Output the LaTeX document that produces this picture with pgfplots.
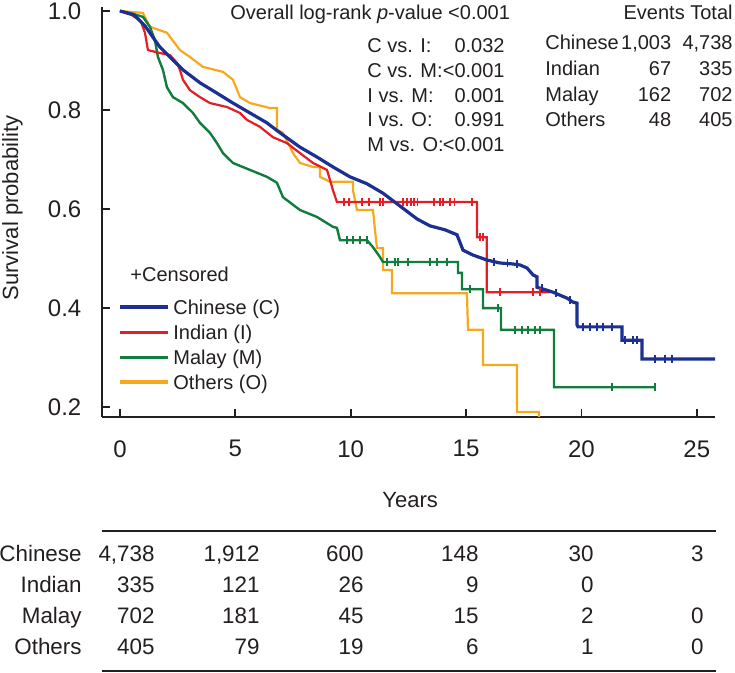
\documentclass[border=0pt]{standalone}
\usepackage{pgfplots}
\pgfplotsset{compat=1.18}
\usepackage{fontspec}
\setmainfont{Liberation Sans}
\definecolor{cblue}{RGB}{28,48,145}
\definecolor{cred}{RGB}{227,30,36}
\definecolor{cgreen}{RGB}{16,124,62}
\definecolor{corange}{RGB}{246,168,30}
\definecolor{ink}{RGB}{35,31,32}
\begin{document}
\begin{tikzpicture}
\path[use as bounding box] (0,0) rectangle (367.5pt,-336.5pt);
\begin{axis}[
  at={(50.85pt,-208.5pt)}, anchor=south west,
  scale only axis, width=306.65pt, height=205pt,
  xmin=-0.79, xmax=25.79, ymin=0.180, ymax=1.008,
  axis lines=left, axis line style={-, line width=1pt, ink},
  tick align=inside, major tick length=4pt,
  tick style={line width=0.9pt, ink},
  xtick={0,5,10,15,20,25}, xticklabels={0,5,10,15,20,25},
  ytick={0.2,0.4,0.6,0.8,1.0}, yticklabels={0.2,0.4,0.6,0.8,1.0},
  ticklabel style={font=\fontsize{12}{14}\selectfont, text=ink},
  yticklabel style={anchor=east, inner sep=0pt, xshift=-10pt},
  xticklabel style={anchor=north, inner sep=0pt, yshift=-11.5pt},
  xlabel={Years}, ylabel={Survival probability},
  xlabel style={at={(axis description cs:0.503,-0.2024)}, anchor=center, font=\fontsize{11}{13}\selectfont, text=ink},
  ylabel style={at={(axis description cs:-0.1454,0.5098)}, anchor=center, rotate=0, font=\fontsize{11}{13}\selectfont, text=ink},
  clip=true,
]
% Others
\addplot[corange, line width=1.1pt, mark=none] coordinates {
(0,1.000)(0.997,0.996)(1.300,0.968)(2.037,0.956)(2.601,0.921)(3.034,0.907)(3.598,0.887)
(4.465,0.877)(4.898,0.861)(5.202,0.826)(5.635,0.814)(6.502,0.804)(6.805,0.804)(6.805,0.760)
(7.065,0.754)(7.5,0.713)(7.802,0.693)(8.366,0.685)(8.669,0.685)(8.669,0.665)(9.103,0.655)
(10.100,0.655)(10.100,0.638)(10.273,0.598)(10.967,0.598)(11.053,0.558)(11.140,0.521)
(11.400,0.521)(11.400,0.477)(11.790,0.477)(11.790,0.430)(15.041,0.430)(15.085,0.356)
(15.735,0.356)(15.735,0.285)(17.209,0.285)(17.209,0.190)(18.162,0.190)(18.162,0.10)
};
% Malay
\addplot[cgreen, line width=1.2pt, mark=none] coordinates {
(0,1.000)(0.5,0.995)(0.997,0.988)(1.300,0.968)(1.517,0.941)(1.647,0.907)(1.864,0.881)
(2.037,0.846)(2.297,0.826)(2.731,0.814)(3.164,0.794)(3.468,0.774)(3.901,0.754)(4.205,0.733)
(4.465,0.713)(4.898,0.693)(5.635,0.679)(6.372,0.665)(6.805,0.653)(7.065,0.624)(7.802,0.598)
(8.539,0.584)(9.233,0.564)(9.406,0.562)(9.536,0.537)(10.707,0.537)(10.967,0.523)(11.270,0.503)
(11.400,0.493)(14.651,0.493)(14.651,0.471)(14.824,0.471)(14.824,0.438)(15.735,0.438)
(15.735,0.400)(16.515,0.400)(16.515,0.356)(18.812,0.356)(18.812,0.240)(23.190,0.240)
};
\addplot[cgreen, only marks, mark=|, mark size=2pt, line width=0.9pt] coordinates {
(9.84,0.537)(10.1,0.537)(10.4,0.537)(10.7,0.537)(11.57,0.493)(11.92,0.493)(12.05,0.493)
(12.48,0.493)(13.44,0.493)(13.74,0.493)(14.17,0.493)(15.17,0.438)(16.39,0.400)(17.12,0.356)
(17.43,0.356)(17.69,0.356)(17.99,0.356)(18.21,0.356)(21.33,0.240)(23.19,0.240)
};
% Indian
\addplot[cred, line width=1.1pt, mark=none] coordinates {
(0,1.000)(0.5,0.992)(0.9,0.980)(1.084,0.956)(1.214,0.921)(1.734,0.915)(2.167,0.911)
(2.471,0.895)(2.601,0.881)(2.731,0.861)(3.034,0.840)(3.468,0.826)(3.901,0.814)(4.638,0.806)
(5.202,0.794)(5.505,0.780)(6.068,0.766)(6.632,0.745)(7.239,0.733)(7.802,0.713)(8.366,0.693)
(8.973,0.679)(9.103,0.659)(9.233,0.638)(9.406,0.614)(15.475,0.614)(15.475,0.543)
(15.9,0.543)(15.9,0.432)(18.639,0.432)
};
\addplot[cred, only marks, mark=|, mark size=2pt, line width=0.9pt] coordinates {
(9.7,0.614)(9.93,0.614)(10.5,0.614)(10.8,0.614)(11.27,0.614)(11.4,0.614)(12.27,0.614)
(12.44,0.614)(12.6,0.614)(12.75,0.614)(12.9,0.614)(13.6,0.614)(13.87,0.614)(14.0,0.614)
(14.3,0.614)(14.5,0.614)(15.25,0.614)(15.6,0.543)(15.75,0.543)(16.47,0.432)(17.9,0.432)(18.2,0.432)
};
% Chinese
\addplot[cblue, line width=1.6pt, mark=none] coordinates {
(0,1.000)(0.607,0.992)(1.084,0.970)(1.517,0.941)(1.734,0.927)(2.167,0.907)(2.731,0.881)
(3.468,0.855)(4.205,0.834)(4.898,0.814)(5.635,0.794)(6.372,0.774)(6.935,0.754)(7.802,0.725)
(8.539,0.705)(9.233,0.685)(9.970,0.665)(10.707,0.651)(11.400,0.632)(12.137,0.606)(12.874,0.580)
(13.437,0.566)(14.087,0.558)(14.608,0.548)(14.868,0.517)(15.301,0.507)(15.908,0.497)
(16.472,0.491)(17.035,0.489)(17.338,0.487)(17.642,0.481)(17.902,0.467)(18.075,0.463)
(18.075,0.442)(18.509,0.436)(18.769,0.432)(19.072,0.426)(19.376,0.420)(19.636,0.412)
(19.809,0.410)(19.809,0.366)(19.853,0.362)(21.760,0.362)(21.760,0.335)(22.627,0.335)
(22.627,0.297)(25.79,0.297)
};
\addplot[cblue, only marks, mark=|, mark size=2pt, line width=0.9pt] coordinates {
(16.2,0.494)(16.8,0.490)(17.2,0.488)(18.3,0.440)(18.9,0.430)(19.5,0.416)
(20.07,0.362)(20.37,0.362)(20.68,0.362)(20.94,0.362)(21.33,0.362)(21.89,0.335)(22.24,0.335)
(22.41,0.335)(23.19,0.297)(23.62,0.297)(23.93,0.297)
};
\end{axis}
% annotations
\begin{scope}[every node/.style={text=ink, inner sep=0pt, font=\fontsize{10}{12}\selectfont}]
\node[anchor=base west] at (115pt,-10pt) {Overall log-rank \textit{p}-value <0.001};
\node[anchor=base west] at (183.5pt,-26.5pt) {C vs. I:};
\node[anchor=base east] at (252.5pt,-26.5pt) {0.032};
\node[anchor=base west] at (183.5pt,-39pt) {C vs. M:};
\node[anchor=base east] at (252.5pt,-39pt) {<0.001};
\node[anchor=base west] at (183.5pt,-51.25pt) {I vs. M:};
\node[anchor=base east] at (252.5pt,-51.25pt) {0.001};
\node[anchor=base west] at (183.5pt,-63.5pt) {I vs. O:};
\node[anchor=base east] at (252.5pt,-63.5pt) {0.991};
\node[anchor=base west] at (183.5pt,-75.75pt) {M vs. O:};
\node[anchor=base east] at (252.5pt,-75.75pt) {<0.001};
% events table
\node[anchor=base east] at (366.5pt,-10pt) {Events Total};
\node[anchor=base west] at (272.5pt,-25pt) {Chinese};
\node[anchor=base east] at (335.8pt,-25pt) {1,003};
\node[anchor=base east] at (366.5pt,-25pt) {4,738};
\node[anchor=base west] at (272.5pt,-38pt) {Indian};
\node[anchor=base east] at (335.8pt,-38pt) {67};
\node[anchor=base east] at (366.5pt,-38pt) {335};
\node[anchor=base west] at (272.5pt,-50.75pt) {Malay};
\node[anchor=base east] at (335.8pt,-50.75pt) {162};
\node[anchor=base east] at (366.5pt,-50.75pt) {702};
\node[anchor=base west] at (272.5pt,-63.5pt) {Others};
\node[anchor=base east] at (335.8pt,-63.5pt) {48};
\node[anchor=base east] at (366.5pt,-63.5pt) {405};
% legend
\node[anchor=base west] at (65pt,-141pt) {+Censored};
\draw[cblue, line width=1.6pt] (60pt,-153.5pt) -- (84pt,-153.5pt);
\node[anchor=base west] at (86.5pt,-157.5pt) {Chinese (C)};
\draw[cred, line width=1.6pt] (60pt,-166.25pt) -- (84pt,-166.25pt);
\node[anchor=base west] at (86.5pt,-170pt) {Indian (I)};
\draw[cgreen, line width=1.6pt] (60pt,-178.75pt) -- (84pt,-178.75pt);
\node[anchor=base west] at (86.5pt,-182.5pt) {Malay (M)};
\draw[corange, line width=1.6pt] (60pt,-191pt) -- (84pt,-191pt);
\node[anchor=base west] at (86.5pt,-195pt) {Others (O)};
\end{scope}
% risk table
\draw[ink, line width=1pt] (51pt,-265.5pt) -- (358pt,-265.5pt);
\draw[ink, line width=1.2pt] (51pt,-335.6pt) -- (358pt,-335.6pt);
\begin{scope}[every node/.style={text=ink, inner sep=0pt, font=\fontsize{11.2}{13}\selectfont, anchor=base east}]
\node at (41pt,-281pt) {Chinese};
\node at (41pt,-296.5pt) {Indian};
\node at (41pt,-312pt) {Malay};
\node at (41pt,-327.5pt) {Others};
\node at (77.5pt,-281pt) {4,738};
\node at (130pt,-281pt) {1,912};
\node at (182pt,-281pt) {600};
\node at (239.5pt,-281pt) {148};
\node at (297pt,-281pt) {30};
\node at (352pt,-281pt) {3};
\node at (77.5pt,-296.5pt) {335};
\node at (130pt,-296.5pt) {121};
\node at (182pt,-296.5pt) {26};
\node at (239.5pt,-296.5pt) {9};
\node at (297pt,-296.5pt) {0};
\node at (77.5pt,-312pt) {702};
\node at (130pt,-312pt) {181};
\node at (182pt,-312pt) {45};
\node at (239.5pt,-312pt) {15};
\node at (297pt,-312pt) {2};
\node at (352pt,-312pt) {0};
\node at (77.5pt,-327.5pt) {405};
\node at (130pt,-327.5pt) {79};
\node at (182pt,-327.5pt) {19};
\node at (239.5pt,-327.5pt) {6};
\node at (297pt,-327.5pt) {1};
\node at (352pt,-327.5pt) {0};
\end{scope}
\end{tikzpicture}
\end{document}
